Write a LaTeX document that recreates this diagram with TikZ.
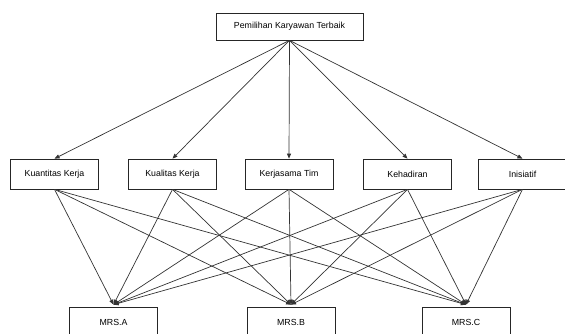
\documentclass[tikz,border=0pt]{standalone}
\usepackage{fontspec}
\setmainfont{Liberation Sans}
\usetikzlibrary{arrows.meta}
\usetikzlibrary{positioning}

\tikzset{
  kotak/.style={draw=black!85, line width=0.7pt, minimum width=88pt, minimum height=30pt, inner sep=0pt, font=\fontsize{8.8}{10}\selectfont},
  panah/.style={draw=black!80, line width=0.7pt, -{Triangle[length=5pt,width=4pt]}}
}

\begin{document}
\begin{tikzpicture}[x=1pt, y=-1pt]
\useasboundingbox (0,0) rectangle (565,334);
\clip (0,0) rectangle (565,334);
\node[kotak, minimum width=147pt, minimum height=27pt] (tujuan) at (289.5,26.5) {Pemilihan Karyawan Terbaik};
\node[kotak] (k1) at (54.5,174) {Kuantitas Kerja};
\node[kotak] (k2) at (172.5,174) {Kualitas Kerja};
\node[kotak] (k3) at (289,174) {Kerjasama Tim};
\node[kotak] (k4) at (407.5,174) {Kehadiran};
\node[kotak] (k5) at (522.5,174) {Inisiatif};
\node[kotak] (mA) at (113.5,322) {MRS.A};
\node[kotak] (mB) at (291,322) {MRS.B};
\node[kotak] (mC) at (466,322) {MRS.C};
% tujuan ke kriteria
\draw[panah] (tujuan.south) -- (k1.north);
\draw[panah] (tujuan.south) -- (k2.north);
\draw[panah] (tujuan.south) -- (k3.north);
\draw[panah] (tujuan.south) -- (k4.north);
\draw[panah] (tujuan.south) -- (k5.north);
% kriteria ke alternatif
\draw[panah] (k1.south) -- ([yshift=2pt]mA.north);
\draw[panah] (k1.south) -- ([yshift=2pt]mB.north);
\draw[panah] (k1.south) -- ([yshift=2pt]mC.north);
\draw[panah] (k2.south) -- ([yshift=2pt]mA.north);
\draw[panah] (k2.south) -- ([yshift=2pt]mB.north);
\draw[panah] (k2.south) -- ([yshift=2pt]mC.north);
\draw[panah] (k3.south) -- ([yshift=2pt]mA.north);
\draw[panah] (k3.south) -- ([yshift=2pt]mB.north);
\draw[panah] (k3.south) -- ([yshift=2pt]mC.north);
\draw[panah] (k4.south) -- ([yshift=2pt]mA.north);
\draw[panah] (k4.south) -- ([yshift=2pt]mB.north);
\draw[panah] (k4.south) -- ([yshift=2pt]mC.north);
\draw[panah] (k5.south) -- ([yshift=2pt]mA.north);
\draw[panah] (k5.south) -- ([yshift=2pt]mB.north);
\draw[panah] (k5.south) -- ([yshift=2pt]mC.north);
\end{tikzpicture}
\end{document}
